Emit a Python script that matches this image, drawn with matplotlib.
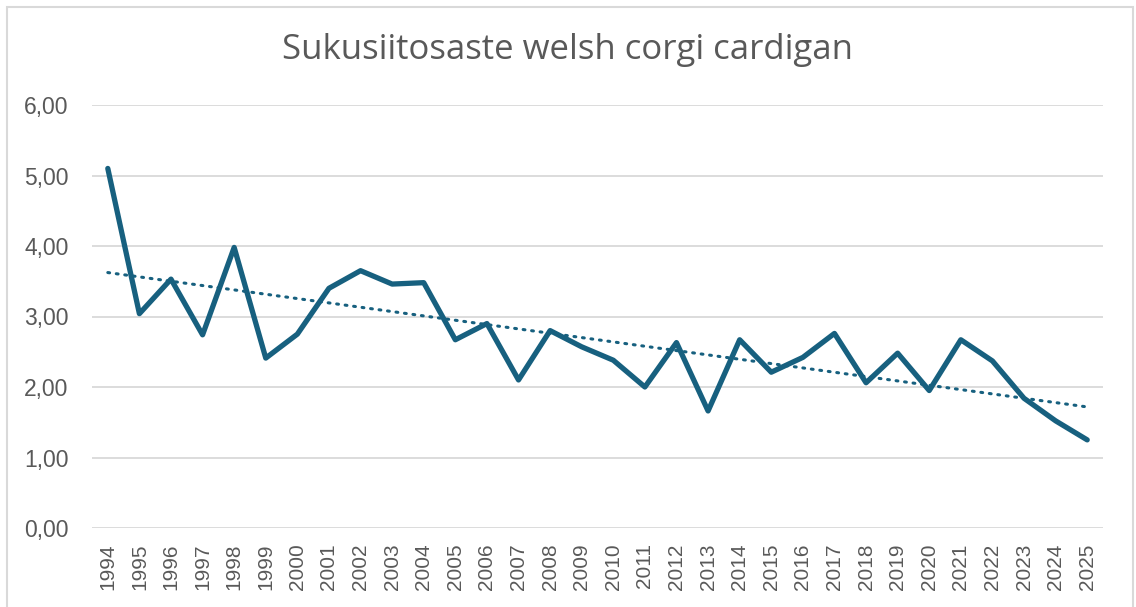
import numpy as np
import matplotlib.pyplot as plt
from matplotlib.patches import Rectangle
from matplotlib.ticker import FuncFormatter

# data
years = list(range(1994, 2026))
values = [5.10, 3.04, 3.53, 2.74, 3.98, 2.41, 2.75, 3.40, 3.65, 3.46,
          3.48, 2.67, 2.90, 2.10, 2.80, 2.57, 2.38, 2.00, 2.63, 1.66,
          2.67, 2.21, 2.42, 2.76, 2.06, 2.48, 1.95, 2.67, 2.37, 1.84,
          1.52, 1.25]
title = "Sukusiitosaste welsh corgi cardigan"

line_col = "#17607f"
grid_col = "#d9d9d9"
text_col = "#595959"

plt.rcParams['font.family'] = ['Liberation Sans', 'DejaVu Sans']

fig = plt.figure(figsize=(11.36, 6.07), dpi=100)
ax = fig.add_axes([92 / 1136, 1 - 528 / 607, (1103 - 92) / 1136, (528 - 105) / 607])

x = np.arange(len(years))
y = np.array(values)
ax.plot(x, y, color=line_col, lw=3.8, solid_joinstyle='round', solid_capstyle='round', zorder=3)

# linear trendline like Excel
k, b = np.polyfit(x, y, 1)
ax.plot(x, k * x + b, color=line_col, lw=2.2, linestyle=(0, (0.6, 2.2)),
        dash_capstyle='round', zorder=2)

ax.set_xlim(-0.5, len(years) - 0.5)
ax.set_ylim(0, 6)
ax.set_yticks(np.arange(0, 7, 1))
ax.yaxis.set_major_formatter(FuncFormatter(lambda v, p: f"{v:.2f}".replace('.', ',')))
ax.set_xticks(x)
ax.set_xticklabels([str(yr) for yr in years], rotation=90, va='top', ha='center')

ax.grid(axis='y', color=grid_col, lw=1.3)
ax.set_axisbelow(True)
for s in ax.spines.values():
    s.set_visible(False)
ax.tick_params(axis='both', length=0, labelsize=15, colors=text_col)
ax.tick_params(axis='y', pad=17)
ax.tick_params(axis='x', pad=11)
for lbl in ax.get_yticklabels():
    lbl.set_fontsize(16.5)

fig.text(0.5, 1 - 50 / 607, title, ha='center', va='center', fontsize=25,
         color=text_col, family=['Open Sans', 'DejaVu Sans'])

# chart frame
fig.patches.append(Rectangle((6.5 / 1136, -0.05), (1133 - 6.5) / 1136, 1.05 - 6.5 / 607,
                             transform=fig.transFigure, fill=False, ec=grid_col, lw=1.5))

fig.savefig("out.png", dpi=100, facecolor='white')
